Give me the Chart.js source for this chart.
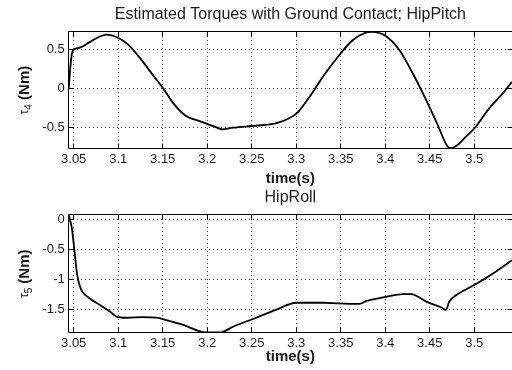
<!DOCTYPE html>
<html>
<head>
<meta charset="utf-8">
<script src="https://cdn.jsdelivr.net/npm/chart.js@4.4.0/dist/chart.umd.min.js"></script>
<style>
  html, body { margin: 0; padding: 0; background: #fff; }
  #wrap { position: relative; width: 512px; height: 370px; overflow: hidden; }
  canvas { position: absolute; left: 0; }
  #pitch { top: 0; }
  #roll { top: 180px; }
</style>
</head>
<body>
<div id="wrap">
  <canvas id="pitch" width="512" height="190"></canvas>
  <canvas id="roll" width="512" height="190"></canvas>
</div>
<script>
// shared time axis
const tMin = 3.0444;
const tMax = 3.5424;
const xTicks = [3.05, 3.1, 3.15, 3.2, 3.25, 3.3, 3.35, 3.4, 3.45, 3.5];
const xLabels = ['3.05', '3.1', '3.15', '3.2', '3.25', '3.3', '3.35', '3.4', '3.45', '3.5'];

// hip pitch torque
const pitchTime = [3.0444, 3.047, 3.049, 3.057, 3.068, 3.080, 3.087, 3.096, 3.110, 3.125, 3.139, 3.150, 3.162, 3.175, 3.192, 3.207, 3.217, 3.229, 3.254, 3.277, 3.292, 3.302, 3.315, 3.330, 3.348, 3.363, 3.378, 3.385, 3.392, 3.401, 3.416, 3.431, 3.446, 3.459, 3.470, 3.474, 3.480, 3.491, 3.500, 3.517, 3.532, 3.5424];
const pitchTorque = [0.0, 0.36, 0.48, 0.52, 0.59, 0.665, 0.686, 0.665, 0.57, 0.38, 0.17, 0.01, -0.19, -0.34, -0.42, -0.48, -0.52, -0.50, -0.475, -0.445, -0.38, -0.30, -0.106, 0.15, 0.42, 0.61, 0.71, 0.72, 0.71, 0.665, 0.487, 0.19, -0.148, -0.466, -0.74, -0.76, -0.73, -0.61, -0.51, -0.25, -0.063, 0.085];
const pitchTicks = [-0.5, 0, 0.5];
const pitchLabels = ['-0.5', '0', '0.5'];

// hip roll torque
const rollTime = [3.0444, 3.048, 3.051, 3.054, 3.057, 3.060, 3.068, 3.080, 3.091, 3.098, 3.110, 3.128, 3.143, 3.154, 3.173, 3.199, 3.215, 3.229, 3.255, 3.277, 3.300, 3.330, 3.348, 3.371, 3.379, 3.401, 3.420, 3.429, 3.446, 3.463, 3.468, 3.472, 3.480, 3.500, 3.521, 3.5424];
const rollTorque = [0.077, -0.15, -0.54, -0.93, -1.12, -1.21, -1.32, -1.43, -1.54, -1.62, -1.64, -1.63, -1.64, -1.68, -1.76, -1.885, -1.885, -1.79, -1.64, -1.51, -1.39, -1.39, -1.40, -1.41, -1.36, -1.29, -1.245, -1.245, -1.37, -1.47, -1.51, -1.37, -1.26, -1.095, -0.90, -0.68];
const rollTicks = [-1.5, -1, -0.5, 0];
const rollLabels = ['-1.5', '-1', '-0.5', '0'];

const FONT = '"Liberation Sans", Arial, Helvetica, sans-serif';
const TXT = '#1a1a1a';

// axes box with inward tick marks on all four sides
const boxPlugin = {
  id: 'box',
  afterDatasetsDraw(chart) {
    const { ctx, chartArea: a, scales } = chart;
    const L = Math.floor(a.left) + 0.5, R = Math.floor(a.right) + 0.5;
    const T = Math.floor(a.top) + 0.5, B = Math.floor(a.bottom) + 0.5;
    const len = 5;
    ctx.save();
    ctx.strokeStyle = '#000';
    ctx.lineWidth = 1;
    ctx.beginPath();
    ctx.moveTo(L, T); ctx.lineTo(R, T); ctx.lineTo(R, B); ctx.lineTo(L, B); ctx.closePath();
    scales.x.ticks.forEach(t => {
      const px = Math.floor(scales.x.getPixelForValue(t.value)) + 0.5;
      ctx.moveTo(px, B); ctx.lineTo(px, B - len);
      ctx.moveTo(px, T); ctx.lineTo(px, T + len);
    });
    scales.y.ticks.forEach(t => {
      const py = Math.floor(scales.y.getPixelForValue(t.value)) + 0.5;
      ctx.moveTo(L, py); ctx.lineTo(L + len, py);
      ctx.moveTo(R, py); ctx.lineTo(R - len, py);
    });
    ctx.stroke();
    ctx.restore();
  }
};

// rotated y label: tau with a subscript index, then the unit
const yLabelPlugin = {
  id: 'ylabel',
  afterDraw(chart, args, o) {
    const { ctx, chartArea: a } = chart;
    const sym = { text: '\u03c4', font: 'normal 12px ' + FONT, dy: 0 };
    const sub = { text: o.index, font: 'normal 10px ' + FONT, dy: 4 };
    const gap = { text: ' ', font: 'bold 15px ' + FONT, dy: 0 };
    const unit = { text: '(Nm)', font: 'bold 15px ' + FONT, dy: 0 };
    const parts = [sym, sub, gap, unit];
    ctx.save();
    let total = 0;
    parts.forEach(p => { ctx.font = p.font; p.w = ctx.measureText(p.text).width; total += p.w; });
    ctx.translate(o.x, (a.top + a.bottom) / 2);
    ctx.rotate(-Math.PI / 2);
    ctx.fillStyle = TXT;
    ctx.textBaseline = 'middle';
    ctx.textAlign = 'left';
    let x = -total / 2;
    parts.forEach(p => {
      ctx.font = p.font;
      ctx.fillText(p.text, x, p.dy);
      x += p.w;
    });
    ctx.restore();
  }
};

function makeChart(id, opts) {
  const points = opts.time.map((t, i) => ({ x: t, y: opts.values[i] }));
  return new Chart(document.getElementById(id), {
    type: 'line',
    data: {
      datasets: [{
        data: points,
        borderColor: '#000',
        borderWidth: 1.8,
        pointRadius: 0,
        cubicInterpolationMode: 'monotone',
        fill: false
      }]
    },
    options: {
      responsive: false,
      animation: false,
      events: [],
      layout: { padding: 0 },
      plugins: {
        legend: { display: false },
        tooltip: { enabled: false },
        title: {
          display: true,
          text: opts.title,
          fullSize: false,
          color: TXT,
          font: { family: FONT, size: 16, weight: 'normal' },
          padding: opts.titlePad
        },
        ylabel: { x: 25, index: opts.yIndex }
      },
      scales: {
        x: {
          type: 'linear',
          min: tMin,
          max: tMax,
          afterBuildTicks: s => { s.ticks = xTicks.map(v => ({ value: v })); },
          afterFit: s => { s.height = opts.xHeight; },
          ticks: {
            color: TXT,
            font: { family: FONT, size: 13 },
            padding: 3,
            maxRotation: 0,
            autoSkip: false,
            callback: (v) => xLabels[xTicks.indexOf(v)]
          },
          grid: { color: 'rgba(0,0,0,0.75)', lineWidth: 1, drawTicks: false },
          border: { display: false, dash: [1, 3] },
          title: {
            display: true,
            text: 'time(s)',
            color: TXT,
            font: { family: FONT, size: 15, weight: 'bold' },
            padding: { top: 0, bottom: opts.xTitlePad }
          }
        },
        y: {
          type: 'linear',
          min: opts.yMin,
          max: opts.yMax,
          afterBuildTicks: s => { s.ticks = opts.yTicks.map(v => ({ value: v })); },
          afterFit: s => { s.width = 68.7; },
          ticks: {
            color: TXT,
            font: { family: FONT, size: 13 },
            padding: 4,
            callback: (v) => opts.yLabels[opts.yTicks.indexOf(v)]
          },
          grid: { color: 'rgba(0,0,0,0.75)', lineWidth: 1, drawTicks: false },
          border: { display: false, dash: [1, 3] }
        }
      }
    },
    plugins: [boxPlugin, yLabelPlugin]
  });
}

makeChart('pitch', {
  time: pitchTime,
  values: pitchTorque,
  title: 'Estimated Torques with Ground Contact; HipPitch',
  titlePad: { top: 4.5, bottom: 8.2 },
  xHeight: 41.7,
  xTitlePad: 2.5,
  yMin: -0.762,
  yMax: 0.72,
  yTicks: pitchTicks,
  yLabels: pitchLabels,
  yIndex: '4'
});

makeChart('roll', {
  time: rollTime,
  values: rollTorque,
  title: 'HipRoll',
  titlePad: { top: 7.5, bottom: 8.2 },
  xHeight: 37.3,
  xTitlePad: 4,
  yMin: -1.89,
  yMax: 0.077,
  yTicks: rollTicks,
  yLabels: rollLabels,
  yIndex: '5'
});
</script>
</body>
</html>
